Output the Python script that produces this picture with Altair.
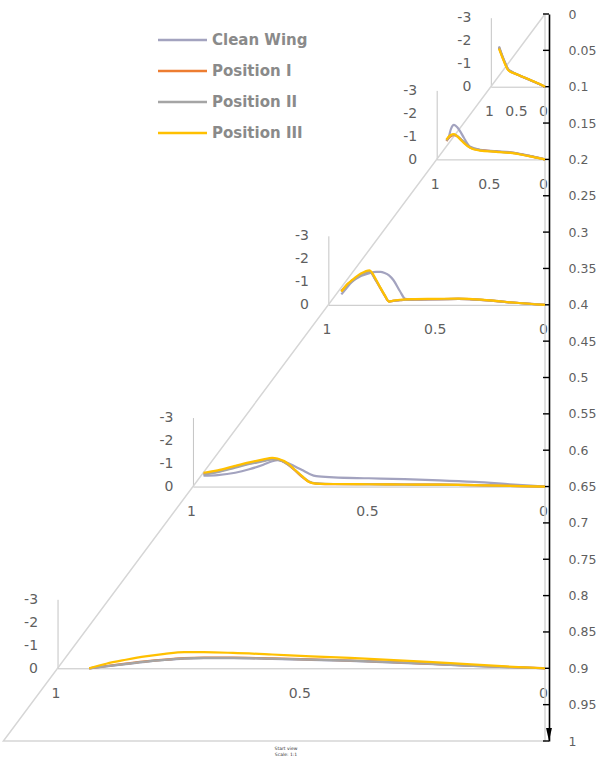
import altair as alt
import pandas as pd

# ---------------- data ----------------
SERIES = ["Clean Wing", "Position I", "Position II", "Position III"]
COLORS = ["#a3a3bf", "#ed7d31", "#a5a5a5", "#ffc000"]

STATIONS = [0.1, 0.2, 0.4, 0.65, 0.9]

# spanwise station 0.1
XC_A = [0.85, 0.80, 0.75, 0.68, 0.62, 0.56, 0.45, 0.30, 0.15, 0.0]
CLEAN_A = [-1.75, -1.42, -1.12, -0.76, -0.66, -0.58, -0.47, -0.32, -0.16, 0.0]
POS1_A = [-1.70, -1.38, -1.08, -0.74, -0.64, -0.57, -0.46, -0.31, -0.16, 0.0]
POS2_A = [-1.72, -1.40, -1.10, -0.75, -0.65, -0.58, -0.46, -0.31, -0.16, 0.0]
POS3_A = [-1.66, -1.35, -1.05, -0.72, -0.63, -0.58, -0.47, -0.32, -0.17, 0.0]

# spanwise station 0.2
XC_B = [0.91, 0.89, 0.87, 0.84, 0.81, 0.78, 0.75, 0.69, 0.60, 0.45, 0.30, 0.15, 0.0]
CLEAN_B = [-0.85, -0.95, -1.30, -1.50, -1.40, -1.20, -0.95, -0.55, -0.42, -0.36, -0.30, -0.17, 0.0]
POS1_B = [-0.80, -0.92, -1.00, -1.05, -1.00, -0.88, -0.75, -0.52, -0.40, -0.34, -0.28, -0.15, 0.0]
POS2_B = [-0.82, -0.95, -1.05, -1.08, -1.02, -0.90, -0.76, -0.53, -0.41, -0.34, -0.28, -0.15, 0.0]
POS3_B = [-0.86, -0.98, -1.06, -1.10, -1.00, -0.86, -0.72, -0.50, -0.38, -0.33, -0.27, -0.14, 0.0]

# spanwise station 0.4
XC_C = [0.94, 0.91, 0.89, 0.85, 0.81, 0.78, 0.76, 0.74, 0.72, 0.70, 0.67, 0.645,
        0.60, 0.50, 0.40, 0.35, 0.25, 0.15, 0.0]
CLEAN_C = [-0.45, -0.80, -1.00, -1.25, -1.38, -1.43, -1.43, -1.38, -1.28, -1.08, -0.60, -0.26,
           -0.22, -0.24, -0.26, -0.25, -0.19, -0.10, 0.0]
POS1_C = [-0.60, -0.90, -1.05, -1.30, -1.45, -1.05, -0.72, -0.40, -0.14, -0.17, -0.20, -0.22,
          -0.23, -0.25, -0.26, -0.25, -0.18, -0.10, 0.0]
POS2_C = [-0.58, -0.88, -1.03, -1.28, -1.44, -1.06, -0.74, -0.42, -0.15, -0.17, -0.20, -0.22,
          -0.23, -0.25, -0.26, -0.25, -0.18, -0.10, 0.0]
POS3_C = [-0.57, -0.92, -1.08, -1.36, -1.50, -1.10, -0.75, -0.42, -0.14, -0.18, -0.22, -0.24,
          -0.25, -0.26, -0.27, -0.26, -0.19, -0.10, 0.0]

# spanwise station 0.65
XC_D = [0.97, 0.93, 0.88, 0.84, 0.80, 0.775, 0.76, 0.73, 0.71, 0.69, 0.67, 0.65,
        0.60, 0.50, 0.40, 0.30, 0.20, 0.10, 0.0]
CLEAN_D = [-0.47, -0.50, -0.60, -0.75, -0.95, -1.10, -1.15, -1.02, -0.87, -0.72, -0.56, -0.45,
           -0.40, -0.36, -0.32, -0.27, -0.20, -0.10, 0.0]
POS1_D = [-0.55, -0.65, -0.85, -1.00, -1.12, -1.20, -1.18, -0.95, -0.70, -0.42, -0.20, -0.13,
          -0.10, -0.10, -0.09, -0.08, -0.06, -0.03, 0.0]
POS2_D = [-0.52, -0.62, -0.82, -0.98, -1.10, -1.18, -1.17, -0.96, -0.72, -0.44, -0.22, -0.14,
          -0.11, -0.10, -0.09, -0.08, -0.06, -0.03, 0.0]
POS3_D = [-0.60, -0.70, -0.90, -1.05, -1.18, -1.25, -1.22, -1.00, -0.72, -0.45, -0.20, -0.13,
          -0.11, -0.10, -0.09, -0.08, -0.06, -0.03, 0.0]

# spanwise station 0.9
XC_E = [0.935, 0.90, 0.86, 0.82, 0.78, 0.74, 0.70, 0.64, 0.56, 0.48, 0.40, 0.32, 0.24, 0.16, 0.08, 0.0]
CLEAN_E = [0.0, -0.08, -0.18, -0.28, -0.36, -0.42, -0.44, -0.44, -0.41, -0.37, -0.32, -0.26, -0.19, -0.12, -0.05, 0.0]
POS1_E = [0.0, -0.10, -0.20, -0.30, -0.38, -0.44, -0.46, -0.46, -0.43, -0.39, -0.34, -0.28, -0.20, -0.13, -0.06, 0.0]
POS2_E = [0.0, -0.09, -0.19, -0.29, -0.37, -0.43, -0.45, -0.45, -0.42, -0.38, -0.33, -0.27, -0.20, -0.12, -0.05, 0.0]
POS3_E = [0.0, -0.20, -0.37, -0.52, -0.63, -0.70, -0.70, -0.67, -0.60, -0.52, -0.45, -0.37, -0.28, -0.18, -0.08, 0.0]

SPAN_TICKS = [0, 0.05, 0.1, 0.15, 0.2, 0.25, 0.3, 0.35, 0.4, 0.45, 0.5, 0.55, 0.6,
              0.65, 0.7, 0.75, 0.8, 0.85, 0.9, 0.95, 1]
CP_TICKS = [-3, -2, -1, 0]
XC_TICKS = [1, 0.5, 0]

CURVES = [
    (STATIONS[0], XC_A, [CLEAN_A, POS1_A, POS2_A, POS3_A]),
    (STATIONS[1], XC_B, [CLEAN_B, POS1_B, POS2_B, POS3_B]),
    (STATIONS[2], XC_C, [CLEAN_C, POS1_C, POS2_C, POS3_C]),
    (STATIONS[3], XC_D, [CLEAN_D, POS1_D, POS2_D, POS3_D]),
    (STATIONS[4], XC_E, [CLEAN_E, POS1_E, POS2_E, POS3_E]),
]

# ---------------- layout ----------------
W, H = 549, 727            # plot area (span 0..1 maps to height)
PAD = {"left": 0, "top": 14, "right": 605 - W, "bottom": 760 - 14 - H}
TE_PX = 545                # trailing-edge line
AR = 0.745                 # chord / span ratio of the planform sketch
CP_PX = 23                 # pixels per unit Cp in the small plots
FONT = "DejaVu Sans"
TXT = "#5f5f5f"
AX_GRAY = "#c4c4c4"

color_scale = alt.Scale(domain=SERIES, range=COLORS)

main_x = alt.Scale(domain=[TE_PX / H, -(W - TE_PX) / H], range=[0, W], nice=False, zero=False)
main_y = alt.Scale(domain=[0, 1], range=[0, H], nice=False, zero=False)

MAIN_AXIS = alt.Axis(
    orient="right", values=SPAN_TICKS, format=".2~f", ticks=False, grid=False,
    domainColor="black", domainWidth=1.6, labelPadding=19, labelFont=FONT,
    labelFontSize=12.5, labelColor=TXT, labelOverlap=False, title=None,
)

plan = pd.DataFrame({"d": [0, AR, 0, 0], "s": [0, 1, 1, 0], "o": [0, 1, 2, 3]})
plan_line = alt.Chart(plan).mark_line(color="#d6d6d6", strokeWidth=1.5).encode(
    x=alt.X("d:Q", scale=main_x, axis=None),
    y=alt.Y("s:Q", scale=main_y, axis=MAIN_AXIS),
    order="o:Q",
)

ticks = alt.Chart(pd.DataFrame({"s": SPAN_TICKS})).mark_rule(color="black", strokeWidth=1.4).encode(
    y=alt.Y("s:Q", scale=main_y, axis=MAIN_AXIS),
    x=alt.value(W - 6),
    x2=alt.value(W),
)

arrow = alt.Chart(pd.DataFrame({"s": [0.991]})).mark_point(
    shape="M-0.45,-1L0.45,-1L0,1Z", filled=True, color="black", size=170, opacity=1
).encode(
    y=alt.Y("s:Q", scale=main_y, axis=MAIN_AXIS),
    x=alt.value(W),
)

tiny = alt.Chart(pd.DataFrame({"t": ["Start view\nScale: 1:1"]})).mark_text(
    fontSize=4.5, lineBreak="\n", lineHeight=6, color="#333333", font=FONT, baseline="top"
).encode(text="t:N", x=alt.value(286), y=alt.value(H + 5))

main = alt.layer(plan_line, ticks, arrow, tiny)


def small_plot(station, xc, cps):
    rows = []
    for name, vals in zip(SERIES, cps):
        for x, c in zip(xc, vals):
            rows.append({"xc": x, "cp": c, "series": name})
    df = pd.DataFrame(rows)
    base = station * H
    le = TE_PX - AR * station * H
    return alt.Chart(df).mark_line(strokeWidth=2.2, interpolate="monotone").encode(
        x=alt.X(
            "xc:Q",
            scale=alt.Scale(domain=[1, 0], range=[le, TE_PX], nice=False, zero=False),
            axis=alt.Axis(
                orient="bottom", offset=base - H, values=XC_TICKS, labelExpr="'' + datum.value",
                ticks=False, grid=False, domainColor=AX_GRAY, domainWidth=1,
                labelPadding=18, labelFont=FONT, labelFontSize=14, labelColor=TXT,
                labelFlush=False, labelOverlap=False, labelOffset=-2, title=None,
            ),
        ),
        y=alt.Y(
            "cp:Q",
            scale=alt.Scale(domain=[-3, 0], range=[base - 3 * CP_PX, base], nice=False, zero=False),
            axis=alt.Axis(
                orient="left", offset=-le, values=CP_TICKS, labelExpr="'' + datum.value",
                ticks=False, grid=False, domainColor=AX_GRAY, domainWidth=1,
                labelPadding=20, labelFont=FONT, labelFontSize=14, labelColor=TXT,
                labelFlush=False, labelOverlap=False, title=None,
            ),
        ),
        color=alt.Color("series:N", scale=color_scale, legend=None),
    )


subs = [small_plot(s, xc, cps) for s, xc, cps in CURVES]

# manual legend (long line samples)
LEG_ROWS = [0, 1, 2, 3]
leg_df = pd.DataFrame({"series": SERIES, "row": LEG_ROWS})
leg_y = alt.Scale(domain=[0, 3], range=[26, 119], nice=False, zero=False)
leg_rule = alt.Chart(leg_df).mark_rule(strokeWidth=2.6).encode(
    y=alt.Y("row:Q", scale=leg_y, axis=None),
    x=alt.value(158),
    x2=alt.value(207),
    color=alt.Color("series:N", scale=color_scale, legend=None),
)
leg_text = alt.Chart(leg_df).mark_text(
    align="left", baseline="middle", font=FONT, fontSize=15, fontWeight="bold", color="#8a8a8a"
).encode(
    y=alt.Y("row:Q", scale=leg_y, axis=None),
    x=alt.value(212),
    text="series:N",
)
legend = alt.layer(leg_rule, leg_text)

chart = (
    alt.layer(main, *subs, legend)
    .resolve_scale(x="independent", y="independent")
    .properties(width=W, height=H, padding=PAD, autosize=alt.AutoSizeParams(type="none"),
                background="white")
    .configure_view(stroke=None)
    .configure_axis(grid=False)
)

chart.save("out.html", embed_options={"renderer": "svg", "actions": False})
